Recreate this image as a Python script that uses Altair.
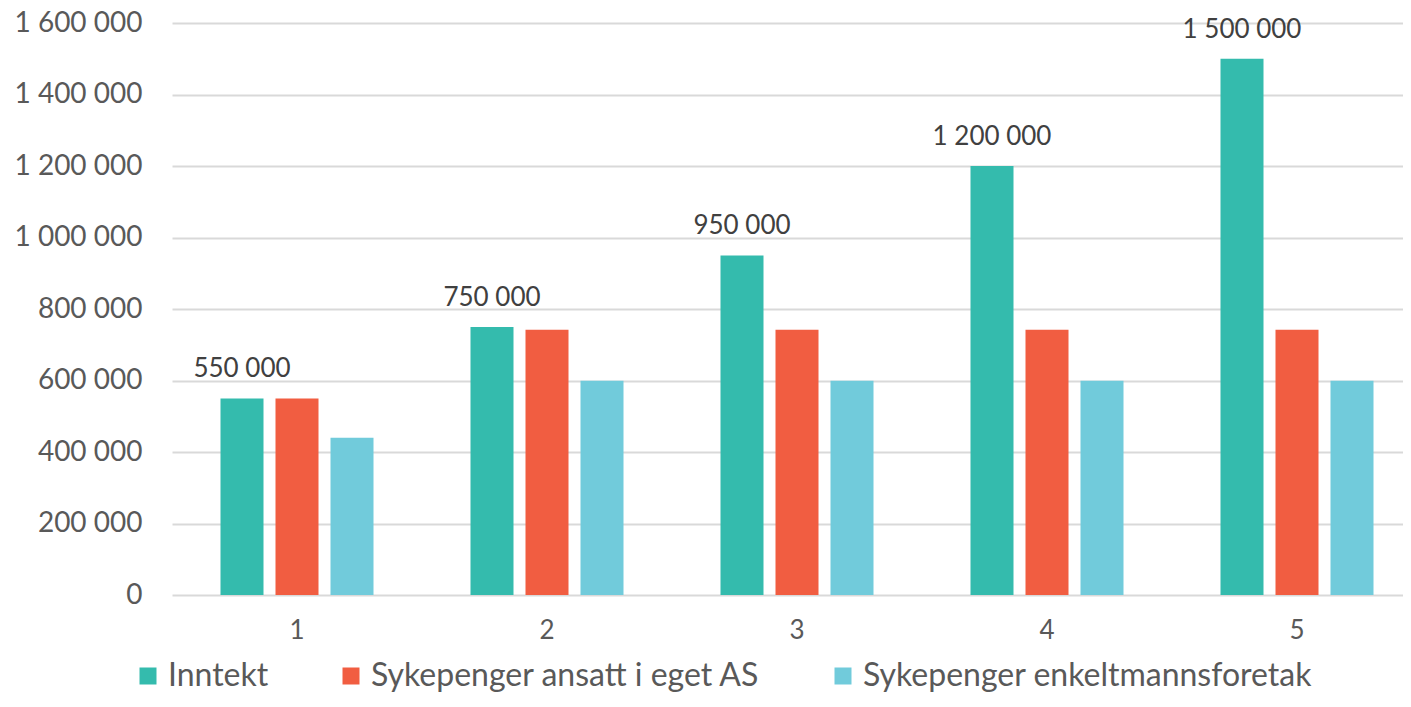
import altair as alt
import pandas as pd

categories = [1, 2, 3, 4, 5]
series = ["Inntekt", "Sykepenger ansatt i eget AS", "Sykepenger enkeltmannsforetak"]
inntekt = [550000, 750000, 950000, 1200000, 1500000]
ansatt = [550000, 742000, 742000, 742000, 742000]
enkelt = [440000, 599000, 599000, 599000, 599000]
colors = ["#34BBAD", "#F15D41", "#71CBDB"]
y_ticks = [0, 200000, 400000, 600000, 800000, 1000000, 1200000, 1400000, 1600000]

rows = []
for name, vals in zip(series, [inntekt, ansatt, enkelt]):
    for c, v in zip(categories, vals):
        rows.append({"cat": str(c), "series": name, "value": v})
df = pd.DataFrame(rows)

FONT = "Lato"
fmt = "replace(format(%s, ','), regexp(',', 'g'), ' ')"

x = alt.X("cat:N", title=None,
          scale=alt.Scale(range=[0, 1250], paddingInner=0.34, paddingOuter=0.17),
          axis=alt.Axis(labelAngle=0, ticks=False, domain=False, labelPadding=22,
                        labelFontSize=26, labelColor="#595959", labelFont=FONT))
xo = alt.XOffset("series:N", sort=series,
                 scale=alt.Scale(domain=series, paddingInner=0.218, paddingOuter=0.109))
y = alt.Y("value:Q", title=None,
          scale=alt.Scale(domain=[0, 1600000], nice=False),
          axis=alt.Axis(values=y_ticks, ticks=False, domain=False, labelPadding=30,
                        labelFontSize=28, labelColor="#595959", labelFont=FONT,
                        gridColor="#d9d9d9", gridWidth=2,
                        labelExpr=fmt % "datum.value"))

bars = alt.Chart(df).mark_bar().encode(
    x=x, xOffset=xo, y=y,
    color=alt.Color("series:N", sort=series,
                    scale=alt.Scale(domain=series, range=colors),
                    legend=alt.Legend(title=None, orient="none", direction="horizontal",
                                      legendX=-40, legendY=637,
                                      symbolType="square", symbolSize=289,
                                      symbolStrokeWidth=0, labelFontSize=32,
                                      labelFont=FONT, labelColor="#595959",
                                      labelLimit=0,
                                      labelOffset=4, columnPadding=66)),
)

labels = alt.Chart(df).transform_filter(
    alt.datum.series == "Inntekt"
).transform_calculate(
    label=fmt % "datum.value"
).mark_text(baseline="alphabetic", dy=-21, fontSize=26, font=FONT, color="#404040").encode(
    x=x, xOffset=xo, y=y, text="label:N"
)

chart = alt.layer(bars, labels).properties(
    width=1231, height=572,
    autosize=alt.AutoSizeParams(type="none"),
    padding={"left": 164, "top": 15, "right": 0, "bottom": 103},
).configure_view(stroke=None)

chart.save("out.html", embed_options={"renderer": "svg", "actions": False})
